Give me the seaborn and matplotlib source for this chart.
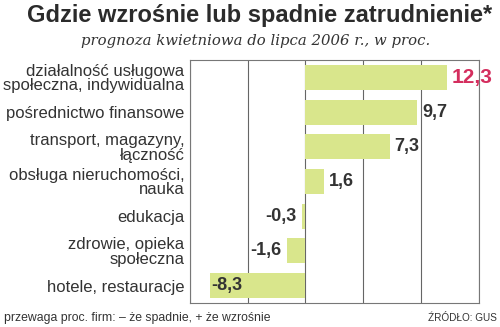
import matplotlib
matplotlib.use("Agg")
import matplotlib.pyplot as plt
import seaborn as sns
import pandas as pd

categories = [
    "działalność usługowa\nspołeczna, indywidualna",
    "pośrednictwo finansowe",
    "transport, magazyny,\nłączność",
    "obsługa nieruchomości,\nnauka",
    "edukacja",
    "zdrowie, opieka\nspołeczna",
    "hotele, restauracje",
]
values = [12.3, 9.7, 7.3, 1.6, -0.3, -1.6, -8.3]
value_labels = ["12,3", "9,7", "7,3", "1,6", "-0,3", "-1,6", "-8,3"]
x_ticks = [-10, -5, 0, 5, 10, 15]

title = "Gdzie wzrośnie lub spadnie zatrudnienie*"
subtitle = "prognoza kwietniowa do lipca 2006 r., w proc."
footnote = "przewaga proc. firm: – że spadnie, + że wzrośnie"
source = "ŹRÓDŁO: GUS"

sns.set_theme(style="white")
plt.rcParams["font.family"] = ["Liberation Sans", "DejaVu Sans"]

df = pd.DataFrame({"cat": categories, "val": values})

fig = plt.figure(figsize=(5.0, 3.27), dpi=100)
ax = fig.add_axes([0.38, 0.0734, 0.577, 0.743])

BAR = "#d9e68c"
TXT = "#333333"
RED = "#d42e5e"

sns.barplot(data=df, x="val", y="cat", order=categories, color=BAR,
            width=0.72, saturation=1, ax=ax, edgecolor="none")

ax.set_xlim(-10, 15)
ax.set_ylim(6.5, -0.5)
ax.set_xticks(x_ticks)
ax.set_xticklabels([])
ax.tick_params(axis="both", length=0)
ax.grid(axis="x", color="#666666", linewidth=0.8)
ax.set_axisbelow(True)
ax.set_xlabel("")
ax.set_ylabel("")
for s in ax.spines.values():
    s.set_visible(True)
    s.set_color("#777777")
    s.set_linewidth(0.8)

ax.set_yticks(range(len(categories)))
ax.set_yticklabels(categories, fontsize=12, color=TXT, linespacing=0.95)
ax.tick_params(axis="y", pad=4)

for i, (v, lab) in enumerate(zip(values, value_labels)):
    if i == 0:
        ax.text(v + 0.35, i, lab, ha="left", va="center", fontsize=15,
                fontweight="bold", color=RED)
    elif v >= 0:
        ax.text(v + 0.4, i, lab, ha="left", va="center", fontsize=13,
                fontweight="bold", color=TXT)
    elif v > -5:
        ax.text(v - 0.45, i, lab, ha="right", va="center", fontsize=13,
                fontweight="bold", color=TXT)
    else:
        ax.text(v + 0.15, i, lab, ha="left", va="center", fontsize=13,
                fontweight="bold", color=TXT)

fig.text(0.52, 0.953, title, ha="center", va="center", fontsize=17,
         fontweight="bold", color="#2b2b2b")
fig.text(0.512, 0.876, subtitle, ha="center", va="center", fontsize=10.7,
         style="italic", color=TXT, family=["DejaVu Serif"])
fig.text(0.008, 0.027, footnote, ha="left", va="center", fontsize=8.8, color=TXT)
fig.text(0.994, 0.027, source, ha="right", va="center", fontsize=7.2, color=TXT)

fig.savefig("out.png", dpi=100, facecolor="white")
